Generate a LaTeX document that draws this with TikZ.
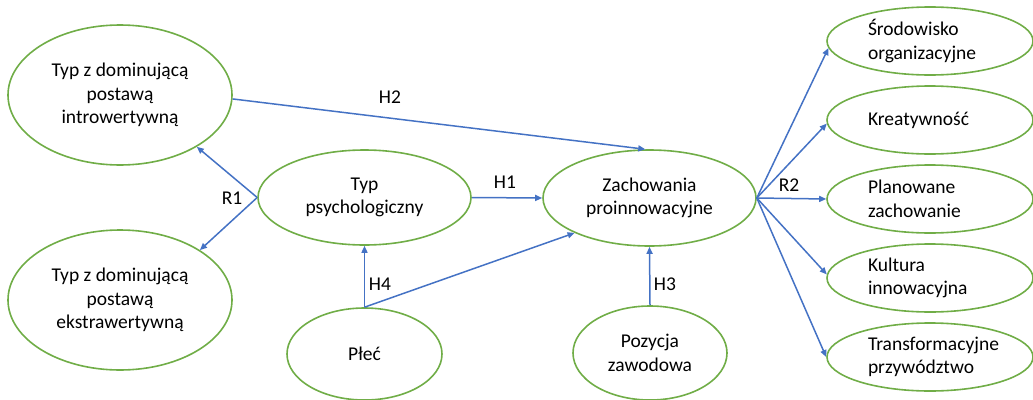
\documentclass[tikz,border=0pt]{standalone}
\usepackage{fontspec}
\setmainfont{Carlito}
\usetikzlibrary{shapes.geometric,arrows.meta}
\definecolor{ogreen}{HTML}{70AD47}
\definecolor{oblue}{HTML}{4472C4}
\tikzset{
  oval/.style={ellipse, draw=ogreen, line width=1.6pt, inner sep=0pt, align=center,
    font=\fontsize{19.5}{23.5}\selectfont},
  roval/.style={oval, minimum width=206pt, minimum height=68pt, text width=124pt, align=left},
  conn/.style={draw=oblue, line width=1.5pt, -{Triangle[length=7pt,width=6pt]}},
  lab/.style={font=\fontsize{19.5}{23.5}\selectfont, inner sep=0pt}
}
\begin{document}
\begin{tikzpicture}[x=1pt,y=-1pt]
\useasboundingbox (0,0) rectangle (1033,399);
\clip (0,0) rectangle (1033,399);
\node[oval, minimum width=224pt, minimum height=140pt] (intro) at (120,95) {Typ z dominującą\\postawą\\introwertywną};
\node[oval, minimum width=224pt, minimum height=140pt] (extra) at (120,300) {Typ z dominującą\\postawą\\ekstrawertywną};
\node[oval, minimum width=213pt, minimum height=95pt] (typ) at (364.5,197.5) {Typ\\psychologiczny};
\node[oval, minimum width=213pt, minimum height=96pt] (zach) at (649.5,198) {Zachowania\\proinnowacyjne};
\node[oval, minimum width=155pt, minimum height=92pt] (plec) at (364.5,354) {Płeć};
\node[oval, minimum width=154pt, minimum height=94pt] (poz) at (650,353) {Pozycja\\zawodowa};
\node[roval] (r1) at (930,41) {Środowisko\\organizacyjne};
\node[roval] (r2) at (930,120) {Kreatywność};
\node[roval] (r3) at (930,199) {Planowane\\zachowanie};
\node[roval] (r4) at (930,278) {Kultura\\innowacyjna};
\node[roval] (r5) at (930,357) {Transformacyjne\\przywództwo};

\draw[conn] (intro.-2) -- (zach.95);
\draw[conn] (typ.west) -- (intro.-34);
\draw[conn] (typ.west) -- (extra.32);
\draw[conn] (typ.east) -- (zach.west);
\draw[conn] (plec.north) -- (typ.south);
\draw[conn] (plec.north) -- (zach.205);
\draw[conn] (poz.north) -- (zach.south);
\draw[conn] (zach.east) -- (r1.184);
\draw[conn] (zach.east) -- (r2.182);
\draw[conn] (zach.east) -- (r3.west);
\draw[conn] (zach.east) -- (r4.178);
\draw[conn] (zach.east) -- (r5.west);

\node[lab] (lh2) at (390,97) {H2};
\node[lab] (lr1) at (232,198) {R1};
\node[lab] (lh1) at (505,182) {H1};
\node[lab] (lh4) at (380,284) {H4};
\node[lab] (lh3) at (665,284) {H3};
\node[lab] (lr2) at (789,185) {R2};
\end{tikzpicture}
\end{document}
